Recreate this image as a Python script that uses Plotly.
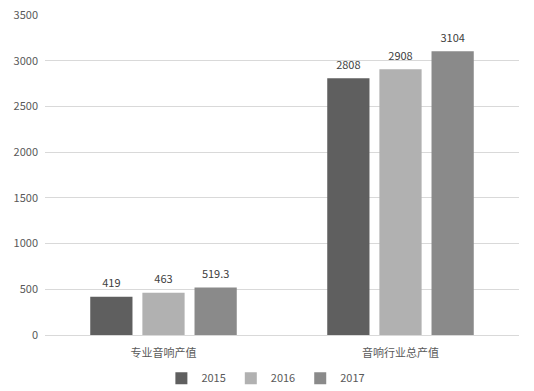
import plotly.graph_objects as go

categories = ["专业音响产值", "音响行业总产值"]
years = ["2015", "2016", "2017"]
values = {
    "2015": [419, 2808],
    "2016": [463, 2908],
    "2017": [519.3, 3104],
}
labels = {
    "2015": ["419", "2808"],
    "2016": ["463", "2908"],
    "2017": ["519.3", "3104"],
}
colors = {"2015": "#5f5f5f", "2016": "#b1b1b1", "2017": "#8a8a8a"}
tick_vals = [0, 500, 1000, 1500, 2000, 2500, 3000, 3500]

font_family = "Noto Sans CJK SC, Noto Sans, sans-serif"

fig = go.Figure()
for y in years:
    fig.add_trace(go.Bar(
        x=categories, y=values[y], name=y,
        marker=dict(color=colors[y], line=dict(width=0)),
        text=["<span style='font-size:11px'>" + t + "</span><br>&nbsp;" for t in labels[y]],
        textposition="outside",
        textfont=dict(size=4, color="#404040", family=font_family),
        cliponaxis=False,
    ))

fig.update_layout(
    width=534, height=391,
    margin=dict(l=45, r=15, t=15, b=56, autoexpand=False),
    paper_bgcolor="white", plot_bgcolor="white",
    barmode="group", bargap=0.34, bargroupgap=0.19,
    font=dict(family=font_family, size=11, color="#595959"),
    showlegend=True,
    legend=dict(orientation="h", x=0.466, xanchor="center", y=-0.135, yanchor="middle",
                font=dict(size=11, color="#595959"), itemwidth=30,
                entrywidth=0, entrywidthmode="pixels",
                traceorder="normal", itemsizing="constant"),
    xaxis=dict(showgrid=False, showline=True, linecolor="#d9d9d9", linewidth=1,
               ticks="", tickfont=dict(size=11, color="#595959"), ticklabelstandoff=8),
    yaxis=dict(range=[0, 3500], tickvals=tick_vals, showgrid=True, gridcolor="#d9d9d9",
               gridwidth=1, zeroline=False, showline=False, ticks="",
               tickfont=dict(size=11, color="#595959"), ticklabelstandoff=6),
    uniformtext=dict(mode=False),
)

fig.write_html("out.html")
